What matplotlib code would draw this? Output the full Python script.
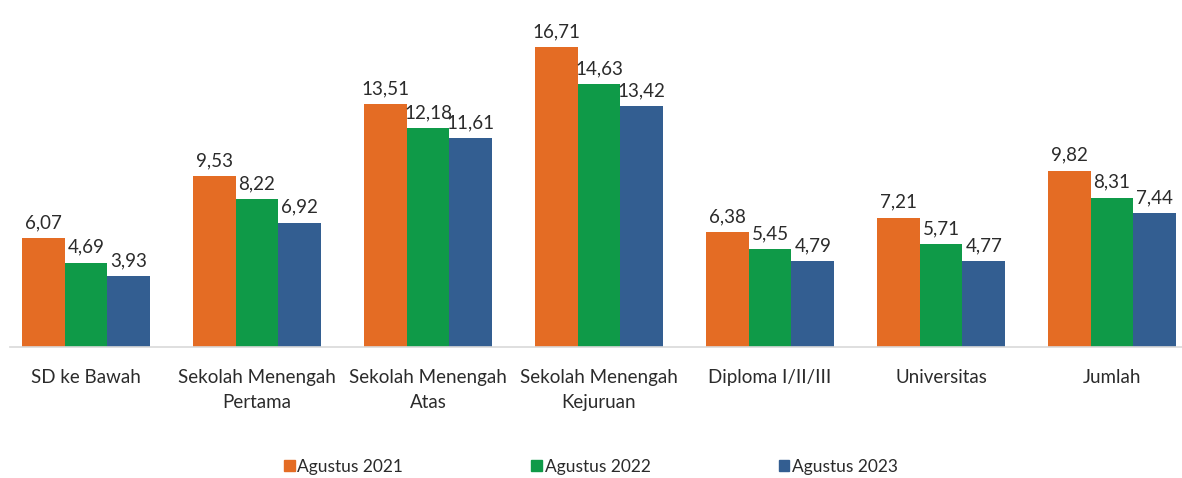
import numpy as np
import matplotlib.pyplot as plt
from matplotlib.patches import Patch

plt.rcParams['font.family'] = ['Lato', 'DejaVu Sans']

# 数据
categories = ['SD ke Bawah', 'Sekolah Menengah\nPertama', 'Sekolah Menengah\nAtas',
              'Sekolah Menengah\nKejuruan', 'Diploma I/II/III', 'Universitas', 'Jumlah']
series_names = ['Agustus 2021', 'Agustus 2022', 'Agustus 2023']
agustus_2021 = [6.07, 9.53, 13.51, 16.71, 6.38, 7.21, 9.82]
agustus_2022 = [4.69, 8.22, 12.18, 14.63, 5.45, 5.71, 8.31]
agustus_2023 = [3.93, 6.92, 11.61, 13.42, 4.79, 4.77, 7.44]

colors = ['#E46C24', '#0F9A48', '#335E91']
text_color = '#2B2B2B'

W, H = 1182, 478
fig = plt.figure(figsize=(W / 100, H / 100), dpi=100)
base_px = 347
ax = fig.add_axes([0, (H - base_px) / H, 1, base_px / H])

pitch = 171.0
c0 = 86.0
ax.set_xlim(-c0 / pitch, (W - c0) / pitch)
ax.set_ylim(0, base_px / 17.96)

x = np.arange(len(categories))
bw = 0.25
for i, vals in enumerate([agustus_2021, agustus_2022, agustus_2023]):
    pos = x + (i - 1) * bw
    ax.bar(pos, vals, width=bw, color=colors[i], label=series_names[i])
    for p, v in zip(pos, vals):
        ax.annotate(f'{v:.2f}'.replace('.', ','), (p, v), xytext=(0, 5),
                    textcoords='offset points', ha='center', va='bottom',
                    fontsize=13.5, color=text_color)

for s in ['top', 'right', 'left']:
    ax.spines[s].set_visible(False)
ax.spines['bottom'].set_color('#D9D9D9')
ax.spines['bottom'].set_linewidth(1.2)
ax.spines['bottom'].set_bounds((10 - c0) / pitch, (W - c0) / pitch)
ax.set_yticks([])
ax.set_xticks(x)
ax.set_xticklabels(categories, fontsize=13.5, color=text_color, linespacing=1.55)
ax.tick_params(axis='x', length=0, pad=16)

handles = [Patch(color=c) for c in colors]
fig.legend(handles, series_names, loc='center', bbox_to_anchor=(0.5, (H - 467) / H),
           ncol=3, frameon=False, fontsize=12.5, handlelength=0.6, handleheight=0.6,
           handletextpad=0.15, columnspacing=7.4, labelcolor=text_color)

fig.savefig('out.png', dpi=100)
